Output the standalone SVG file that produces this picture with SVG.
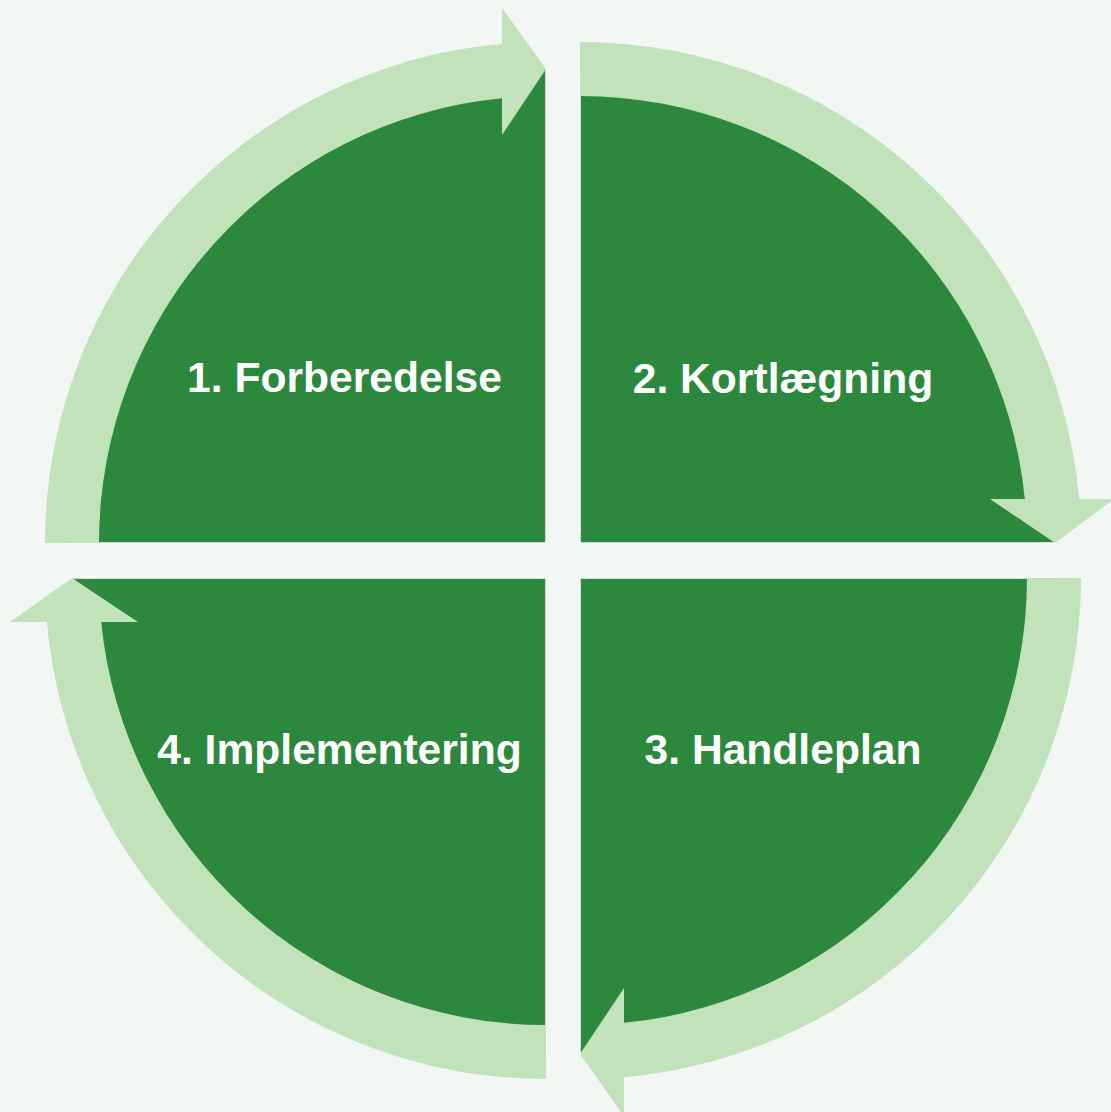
<svg xmlns="http://www.w3.org/2000/svg" width="1111" height="1112" viewBox="0 0 1111 1112">
  <style>
    .quad { fill: #2C883C; stroke: #FFFFFF; stroke-width: 1.5; }
    .band { fill: #C1E2BA; stroke: none; }
    .lbl { font-family: "Liberation Sans", Arial, sans-serif; font-weight: bold; font-size: 42.6px; fill: #FFFFFF; text-anchor: middle; }
  </style>
  <rect x="0" y="0" width="1111" height="1112" fill="#F2F7F3"/>

  <g id="node1">
    <path class="quad" d="M546 543 L71 543 A475 475 0 0 1 546 68 Z"/>
    <text class="lbl" x="344.5" y="392">1. Forberedelse</text>
  </g>
  <g id="node2">
    <path class="quad" d="M580 543 L580 68 A475 475 0 0 1 1055 543 Z"/>
    <text class="lbl" x="783" y="393">2. Kortlægning</text>
  </g>
  <g id="node3">
    <path class="quad" d="M580 578 L1055 578 A475 475 0 0 1 580 1053 Z"/>
    <text class="lbl" x="783" y="764">3. Handleplan</text>
  </g>
  <g id="node4">
    <path class="quad" d="M546 578 L546 1053 A475 475 0 0 1 71 578 Z"/>
    <text class="lbl" x="339.5" y="764">4. Implementering</text>
  </g>

  <g id="connectors">
    <path class="band" d="M45 543 A501 501 0 0 1 502 43.9 L502 8 L546 69 L502 135 L502 98.2 A447 447 0 0 0 99 543 Z"/>
    <path class="band" d="M580 42 A501 501 0 0 1 1079.1 499 L1114 499 L1055 543 L990 499 L1024.8 499 A447 447 0 0 0 580 96 Z"/>
    <path class="band" d="M1081 578 A501 501 0 0 1 624 1077.1 L624 1116 L580 1054 L624 988 L624 1022.8 A447 447 0 0 0 1027 578 Z"/>
    <path class="band" d="M546 1079 A501 501 0 0 1 46.9 622 L10 622 L72 578 L138 622 L101.2 622 A447 447 0 0 0 546 1025 Z"/>
  </g>
</svg>
